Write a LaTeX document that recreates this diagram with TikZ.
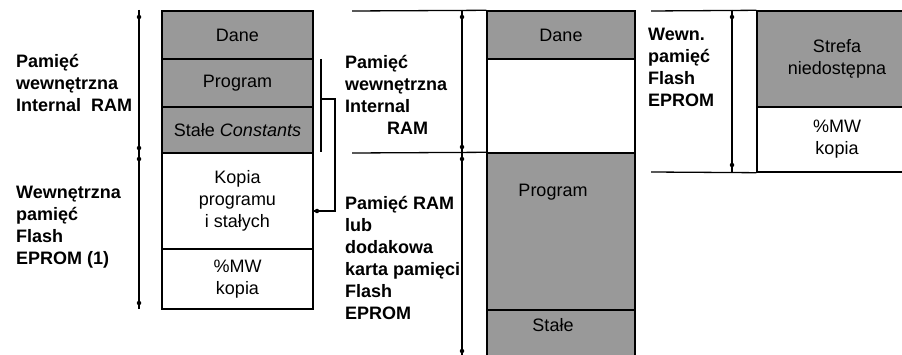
\documentclass[tikz,border=0pt]{standalone}
\usepackage{fontspec}
\setmainfont{Liberation Sans}
\usetikzlibrary{positioning}
\definecolor{memgray}{gray}{0.6}

\begin{document}
\begin{tikzpicture}[
    x=1pt, y=-1pt,
    font=\fontsize{18}{22}\selectfont,
    seg/.style={
        draw,
        line width=1.4pt,
        inner sep=0pt,
        align=center,
        fill=memgray
    },
    freeseg/.style={seg, fill=white},
    lbl/.style={
        align=left,
        inner sep=0pt,
        anchor=west,
        font=\fontsize{18}{22}\selectfont\bfseries
    },
    dim/.style={line width=1.1pt},
    guide/.style={line width=1.3pt},
    dot/.style={circle, fill=black, inner sep=0pt, minimum size=4.5pt}
]
\clip (0,0) rectangle (902,355);

% left column
\node[seg, minimum width=151pt, minimum height=48pt] (ldane) at (237.5,35) {Dane};
\node[seg, minimum width=151pt, minimum height=48pt] (lprog) at (237.5,83) {Program};
\node[seg, minimum width=151pt, minimum height=46pt] (lconst) at (237.5,130) {Stałe \textit{Constants}};
\node[freeseg, minimum width=151pt, minimum height=96pt] (lkopia) at (237.5,201)
    {Kopia\\programu\\i stałych};
\node[freeseg, minimum width=151pt, minimum height=60pt] (lmw) at (237.5,279) {\%MW\\kopia};

\node[lbl] (lram) at (16,83) {Pamięć\\wewnętrzna\\Internal\ \ RAM};
\node[lbl] (lflash) at (16,227) {Wewnętrzna\\pamięć\\Flash\\EPROM (1)};

\coordinate (ltop) at (139,10);
\coordinate (lbot) at (139,309);
\draw[dim] (ltop) -- (lbot);
\foreach \y in {17,148,159,303}
    \node[dot] at (139,\y) {};

% bracket to the copy
\coordinate (brtop) at (321,59);
\coordinate (brbot) at (321,152);
\coordinate (brjoin) at (321,99);
\coordinate (brend) at (lkopia.east |- 0,211);
\draw[guide] (brtop) -- (brbot);
\draw[guide] (brjoin) -| (335,211) -- (brend);
\node[dot] at (317,211) {};

% middle column
\node[seg, minimum width=148pt, minimum height=48pt] (mdane) at (561,35) {Dane};
\node[freeseg, minimum width=148pt, minimum height=94pt] (mfree) at (561,106) {};
\node[seg, minimum width=148pt, minimum height=157pt] (mprog) at (561,231.5) {};
\node[seg, minimum width=148pt, minimum height=60pt] (mconst) at (561,340) {};
\node (mprogtxt) at (553,192) {Program};
\node (mconsttxt) at (553,325) {Stałe};

\node[lbl] (mram) at (345,95) {Pamięć\\wewnętrzna\\Internal\\\hspace*{42pt}RAM};
\node[lbl] (mcard) at (345,258) {Pamięć RAM\\lub\\dodakowa\\karta pamięci\\Flash\\EPROM};

\coordinate (mtopl) at (352,11);
\coordinate (mmidl) at (352,153);
\draw[guide] (mtopl) -- (mdane.north west);
\draw[guide] (mmidl) -- (mprog.north west);

\coordinate (mtop) at (462,10);
\coordinate (mbot) at (462,355);
\draw[dim] (mtop) -- (mbot);
\foreach \y in {17,147,159,351}
    \node[dot] at (462,\y) {};

% right column
\node[seg, minimum width=160pt, minimum height=96pt] (rstrefa) at (837,59) {Strefa\\niedostępna};
\node[freeseg, minimum width=160pt, minimum height=65pt] (rmw) at (837,139.5) {\%MW\\kopia};

\node[lbl] (rflash) at (648,67) {Wewn.\\pamięć\\Flash\\EPROM};

\coordinate (rtopl) at (651,11);
\coordinate (rbotl) at (651,172);
\draw[guide] (rtopl) -- (rstrefa.north west);
\draw[guide] (rbotl) -- (rmw.south west);

\coordinate (rtop) at (732,10);
\coordinate (rbot) at (732,172);
\draw[dim] (rtop) -- (rbot);
\foreach \y in {17,165}
    \node[dot] at (732,\y) {};

\end{tikzpicture}
\end{document}
